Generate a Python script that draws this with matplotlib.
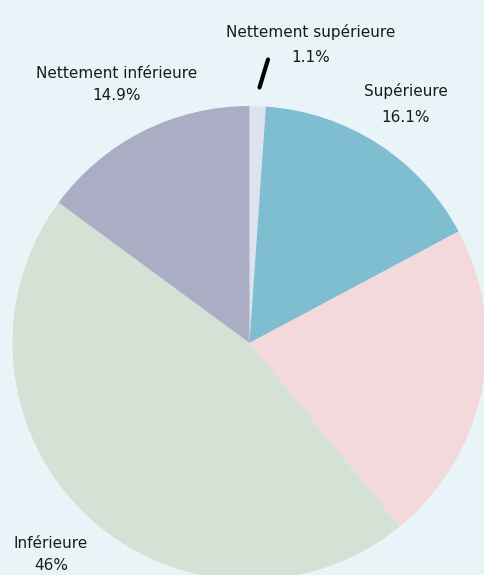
import matplotlib
matplotlib.use('Agg')
import matplotlib.pyplot as plt

# donnees
categories = ['Nettement supérieure', 'Supérieure', 'Identique', 'Inférieure', 'Nettement inférieure']
valeurs = [1.1, 16.1, 21.9, 46, 14.9]
couleurs = ['#dde3ee', '#7fbdd1', '#f3d8dc', '#d3e2d5', '#abadc5']

plt.rcParams['font.family'] = ['DejaVu Sans']

W, H = 484, 575
fig = plt.figure(figsize=(W / 100, H / 100), dpi=100)
fig.patch.set_facecolor('#e8f4f7')
ax = fig.add_axes([0, 0, 1, 1])

# camembert en coordonnees pixels (y vers le haut)
ax.pie(valeurs, colors=couleurs, startangle=90, counterclock=False,
       center=(249.5, H - 343), radius=237,
       wedgeprops=dict(linewidth=0))
ax.set_xlim(0, W)
ax.set_ylim(0, H)
ax.set_aspect('equal')
ax.set_axis_off()

def pct(v):
    return f'{v:g}%'

# position des etiquettes (pixels, origine en haut a gauche)
pos = {
    'Nettement supérieure': (311, 32, 57),
    'Supérieure': (406, 91, 117),
    'Nettement inférieure': (117, 73, 96),
    'Inférieure': (51, 543, 565),
}
for cat, v in zip(categories, valeurs):
    if cat not in pos:
        continue
    x, y1, y2 = pos[cat]
    ax.text(x, H - y1, cat, ha='center', va='center', fontsize=11, color='#1a1a1a')
    ax.text(x, H - y2, pct(v), ha='center', va='center', fontsize=11, color='#1a1a1a')

# trait de rappel
ax.plot([259.5, 268], [H - 87.5, H - 59.5], color='black', linewidth=3, solid_capstyle='round')

plt.savefig('out.png', dpi=100, facecolor=fig.get_facecolor())
